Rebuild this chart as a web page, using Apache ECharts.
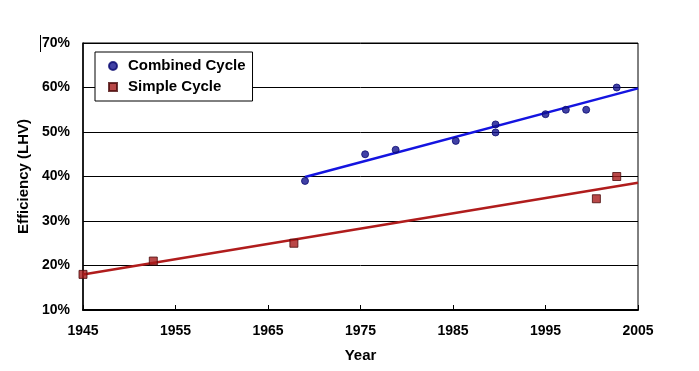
<!DOCTYPE html>
<html>
<head>
<meta charset="utf-8">
<script src="https://cdn.jsdelivr.net/npm/echarts@6/dist/echarts.min.js"></script>
<style>html,body{margin:0;padding:0;background:#fff}#c{width:699px;height:371px}</style>
</head>
<body>
<div id="c"></div>
<script>
// Data
const combinedYears = [1969, 1975.5, 1978.8, 1985.3, 1989.6, 1989.6, 1995, 1997.2, 1999.4, 2002.7];
const combinedEff   = [39, 45, 46, 48, 51.7, 49.9, 54, 55, 55, 60];
const simpleYears   = [1945, 1952.6, 1967.8, 2000.5, 2002.7];
const simpleEff     = [18, 21, 25, 35, 40];
// Trend lines (endpoints)
const combinedTrendYears = [1969, 2005];
const combinedTrendEff   = [39.9, 59.8];
const simpleTrendYears   = [1945, 2005];
const simpleTrendEff     = [18.0, 38.6];
// Axis ticks
const xTickYears = [1945, 1955, 1965, 1975, 1985, 1995, 2005];

const pair = (xs, ys) => xs.map((x, i) => [x, ys[i]]);
const FONT = '"Liberation Sans", Arial, sans-serif';

const chart = echarts.init(document.getElementById('c'), null, {renderer: 'canvas'});
chart.setOption({
  animation: false,
  backgroundColor: '#fff',
  grid: {left: 83, right: 61, top: 43, bottom: 61, show: true, borderColor: '#000', borderWidth: 1, backgroundColor: 'transparent'},
  legend: {
    left: 95, top: 52, orient: 'vertical',
    data: [{name: 'Combined Cycle', icon: 'circle'}, {name: 'Simple Cycle', icon: 'rect'}],
    itemWidth: 8, itemHeight: 8, itemGap: 5,
    padding: [6, 7, 6, 13],
    borderColor: '#000', borderWidth: 1, backgroundColor: '#fff',
    textStyle: {fontFamily: FONT, fontWeight: 'bold', fontSize: 15, color: '#000', padding: [0, 0, 0, 6], lineHeight: 16},
    selectedMode: false
  },
  xAxis: {
    type: 'value', min: 1945, max: 2005,
    name: 'Year', nameLocation: 'middle', nameGap: 38,
    nameTextStyle: {fontFamily: FONT, fontWeight: 'bold', fontSize: 15, color: '#000'},
    axisLine: {show: true, onZero: false, lineStyle: {color: '#000', width: 2}},
    axisTick: {show: true, inside: true, length: 5, customValues: xTickYears, lineStyle: {color: '#000', width: 1}},
    axisLabel: {customValues: xTickYears, margin: 14, fontFamily: FONT, fontWeight: 'bold', fontSize: 14, color: '#000', formatter: v => String(v)},
    splitLine: {show: false}
  },
  yAxis: {
    type: 'value', min: 10, max: 70, interval: 10,
    name: 'Efficiency (LHV)', nameLocation: 'middle', nameGap: 50,
    nameTextStyle: {fontFamily: FONT, fontWeight: 'bold', fontSize: 15, color: '#000'},
    axisLine: {show: true, lineStyle: {color: '#000', width: 1.5}},
    axisTick: {show: false},
    axisLabel: {margin: 13, padding: [5, 0, 0, 0], fontFamily: FONT, fontWeight: 'bold', fontSize: 14, color: '#000', formatter: '{value}%'},
    splitLine: {show: true, lineStyle: {color: '#000', width: 1}}
  },
  graphic: [{type: 'line', shape: {x1: 40.5, y1: 35, x2: 40.5, y2: 52}, style: {stroke: '#000', lineWidth: 1}}],
  series: [
    {name: 'Combined Trend', type: 'line', data: pair(combinedTrendYears, combinedTrendEff), showSymbol: false, symbol: 'none',
     lineStyle: {color: '#1414e0', width: 2.5}, z: 3},
    {name: 'Simple Trend', type: 'line', data: pair(simpleTrendYears, simpleTrendEff), showSymbol: false, symbol: 'none',
     lineStyle: {color: '#b01c1c', width: 2.5}, z: 3},
    {name: 'Combined Cycle', type: 'scatter', data: pair(combinedYears, combinedEff), symbol: 'circle', symbolSize: 7,
     itemStyle: {color: '#12128f', borderColor: '#0a0a70', borderWidth: 1}, z: 4},
    {name: 'Simple Cycle', type: 'scatter', data: pair(simpleYears, simpleEff), symbol: 'rect', symbolSize: 8,
     itemStyle: {color: '#a81a1a', borderColor: '#4a0a0a', borderWidth: 1}, z: 4}
  ]
});
</script>
</body>
</html>
